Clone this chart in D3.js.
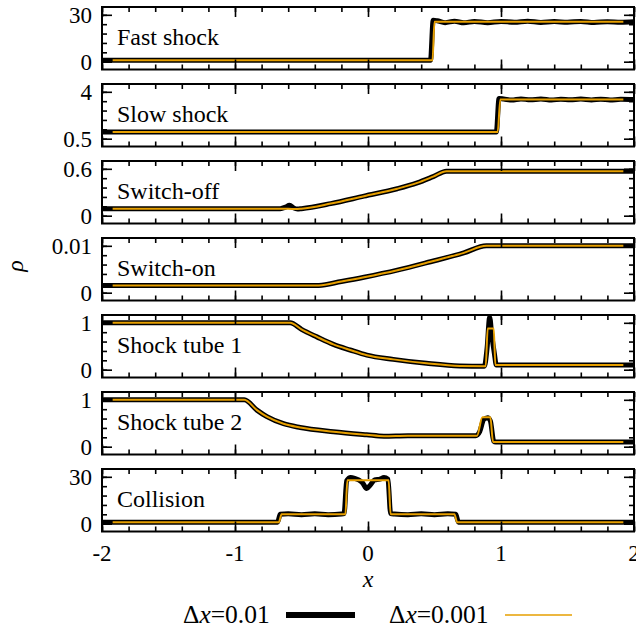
<!DOCTYPE html>
<html>
<head>
<meta charset="utf-8">
<script src="https://cdn.jsdelivr.net/npm/d3@7"></script>
<style>
  body { margin: 0; background: #fff; }
  svg { display: block; }
  text { font-family: "Liberation Serif", "Times New Roman", serif; fill: #000; }
</style>
</head>
<body>
<svg id="chart" width="636" height="629"></svg>
<script>
// ---- data -------------------------------------------------------------
const panelNames = ["Fast shock", "Slow shock", "Switch-off", "Switch-on",
                    "Shock tube 1", "Shock tube 2", "Collision"];
// first and last labelled y tick of every panel
const yTickEnds = [[0, 30], [0.5, 4], [0, 0.6], [0, 0.01], [0, 1], [0, 1], [0, 30]];
const yTickLabels = [["0", "30"], ["0.5", "4"], ["0", "0.6"], ["0", "0.01"],
                     ["0", "1"], ["0", "1"], ["0", "30"]];
const xMajorTicks = [-2, -1, 0, 1, 2];
const xTickLabels = ["-2", "-1", "0", "1", "2"];
const legendNames = ["0.01", "0.001"];

// density profiles, [x, rho]; coarse = Δx=0.01, fine = Δx=0.001
const fastCoarse = [[-2, 1], [0.47, 1], [0.49, 26.5], [0.52, 26.2], [0.58, 25.0], [0.65, 25.9],
  [0.72, 24.9], [0.8, 25.8], [0.9, 25.0], [1.0, 25.8], [1.1, 25.2], [1.2, 25.9], [1.3, 25.1],
  [1.4, 25.7], [1.5, 25.2], [1.6, 25.8], [1.7, 25.1], [1.8, 25.6], [1.9, 25.2], [2, 25.5]];
const fastFine = [[-1.92, 1], [0.485, 1], [0.5, 25.5], [1.92, 25.5]];

const slowCoarse = [[-2, 1], [0.965, 1], [0.985, 3.5], [1.02, 3.46], [1.08, 3.38], [1.15, 3.47],
  [1.22, 3.4], [1.3, 3.46], [1.38, 3.38], [1.45, 3.45], [1.52, 3.4], [1.6, 3.46], [1.68, 3.39],
  [1.75, 3.45], [1.82, 3.39], [1.9, 3.44], [2, 3.42]];
const slowFine = [[-1.92, 1], [0.975, 1], [0.995, 3.42], [1.92, 3.42]];

const switchOffCoarse = [[-2, 0.09], [-0.66, 0.09], [-0.62, 0.11], [-0.59, 0.135], [-0.56, 0.1],
  [-0.53, 0.085], [-0.5, 0.09], [-0.28, 0.155], [-0.03, 0.25], [0.22, 0.345], [0.37, 0.42],
  [0.49, 0.5], [0.59, 0.57], [2, 0.57]];
const switchOffFine = [[-1.92, 0.09], [-0.65, 0.09], [-0.55, 0.085], [-0.5, 0.09], [-0.28, 0.155],
  [-0.03, 0.25], [0.22, 0.345], [0.37, 0.42], [0.49, 0.5], [0.59, 0.57], [1.92, 0.57]];

const switchOnCoarse = [[-2, 0.00156], [-0.37, 0.00156], [-0.2, 0.0024], [-0.03, 0.0033],
  [0.22, 0.0048], [0.47, 0.0066], [0.72, 0.0085], [0.89, 0.0100], [2, 0.0100]];
const switchOnFine = [[-1.92, 0.00156], [-0.37, 0.00156], [-0.2, 0.0024], [-0.03, 0.0033],
  [0.22, 0.0048], [0.47, 0.0066], [0.72, 0.0085], [0.89, 0.0100], [1.92, 0.0100]];

const tube1Coarse = [[-2, 1], [-0.585, 1], [-0.5, 0.86], [-0.384, 0.7], [-0.26, 0.54],
  [-0.134, 0.42], [-0.008, 0.31], [0.19, 0.22], [0.44, 0.135], [0.69, 0.08], [0.875, 0.075],
  [0.895, 0.45], [0.915, 1.12], [0.93, 0.75], [0.95, 0.35], [0.965, 0.1], [2, 0.1]];
const tube1Fine = [[-1.92, 1], [-0.585, 1], [-0.5, 0.86], [-0.384, 0.7], [-0.26, 0.54],
  [-0.134, 0.42], [-0.008, 0.31], [0.19, 0.22], [0.44, 0.135], [0.69, 0.08], [0.885, 0.075],
  [0.9, 0.88], [0.945, 0.88], [0.958, 0.1], [1.92, 0.1]];

const tube2Coarse = [[-2, 1], [-0.93, 1], [-0.835, 0.78], [-0.76, 0.64], [-0.635, 0.49],
  [-0.51, 0.41], [-0.26, 0.32], [-0.01, 0.255], [0.12, 0.225], [0.3, 0.235], [0.81, 0.235],
  [0.84, 0.32], [0.87, 0.58], [0.9, 0.62], [0.92, 0.55], [0.945, 0.12], [0.96, 0.1], [2, 0.1]];
const tube2Fine = [[-1.92, 1], [-0.93, 1], [-0.835, 0.78], [-0.76, 0.64], [-0.635, 0.49],
  [-0.51, 0.41], [-0.26, 0.32], [-0.01, 0.255], [0.12, 0.225], [0.3, 0.235], [0.82, 0.235],
  [0.86, 0.63], [0.92, 0.63], [0.94, 0.1], [1.92, 0.1]];

const collisionCoarse = [[-2, 1], [-0.68, 1], [-0.66, 6], [-0.6, 6.4], [-0.5, 5.8], [-0.4, 6.3],
  [-0.3, 5.8], [-0.2, 6.2], [-0.18, 6.5], [-0.16, 27.5], [-0.13, 29.5], [-0.1, 29], [-0.07, 28],
  [-0.04, 26], [-0.01, 22.5], [0.02, 25], [0.05, 28], [0.09, 28.5], [0.12, 29.5], [0.15, 28.5],
  [0.17, 6.5], [0.2, 6.2], [0.3, 5.8], [0.4, 6.3], [0.5, 5.8], [0.6, 6.3], [0.66, 6], [0.68, 1], [2, 1]];
const collisionFine = [[-1.92, 1], [-0.67, 1], [-0.65, 6], [-0.17, 6], [-0.155, 27.8],
  [0.155, 27.8], [0.17, 6], [0.65, 6], [0.67, 1], [1.92, 1]];

const coarseSeries = [fastCoarse, slowCoarse, switchOffCoarse, switchOnCoarse,
                      tube1Coarse, tube2Coarse, collisionCoarse];
const fineSeries = [fastFine, slowFine, switchOffFine, switchOnFine,
                    tube1Fine, tube2Fine, collisionFine];

// ---- layout -----------------------------------------------------------
const svg = d3.select("#chart");
const left = 102, right = 634;
const panelTop0 = 7, panelPitch = 77, panelH = 62.5;
const orange = "#e69f00";

const x = d3.scaleLinear().domain([-2, 2]).range([left, right]);
const xMinor = d3.range(-2, 2.0001, 0.2);

const line = (y) => d3.line().x(d => x(d[0])).y(d => y(d[1])).curve(d3.curveMonotoneX);

panelNames.forEach((name, i) => {
  const top = panelTop0 + i * panelPitch, bottom = top + panelH;
  const [lo, hi] = yTickEnds[i];
  const pad = (hi - lo) / 6;
  const y = d3.scaleLinear().domain([lo - pad, hi + pad]).range([bottom, top]);
  const yMinor = d3.range(6).map(k => lo + k * (hi - lo) / 5);

  const g = svg.append("g");

  const clipId = "clip" + i;
  svg.append("clipPath").attr("id", clipId)
    .append("rect").attr("x", left).attr("y", top).attr("width", right - left).attr("height", panelH);

  const plot = g.append("g").attr("clip-path", `url(#${clipId})`);
  plot.append("path").datum(coarseSeries[i])
    .attr("d", line(y)).attr("fill", "none").attr("stroke", "#000")
    .attr("stroke-width", 5).attr("stroke-linejoin", "round");
  plot.append("path").datum(fineSeries[i])
    .attr("d", line(y)).attr("fill", "none").attr("stroke", orange)
    .attr("stroke-width", 2).attr("stroke-linejoin", "round");

  // inward ticks on all four sides
  const tickStyle = sel => {
    sel.select(".domain").remove();
    sel.selectAll("line").attr("stroke", "#000").attr("stroke-width", 1.6);
    sel.selectAll("text").remove();
  };
  g.append("g").attr("transform", `translate(0,${bottom})`)
    .call(d3.axisBottom(x).tickValues(xMinor).tickSize(-5)).call(tickStyle);
  g.append("g").attr("transform", `translate(0,${bottom})`)
    .call(d3.axisBottom(x).tickValues(xMajorTicks).tickSize(-10)).call(tickStyle);
  g.append("g").attr("transform", `translate(0,${top})`)
    .call(d3.axisTop(x).tickValues(xMinor).tickSize(-5)).call(tickStyle);
  g.append("g").attr("transform", `translate(0,${top})`)
    .call(d3.axisTop(x).tickValues(xMajorTicks).tickSize(-10)).call(tickStyle);
  g.append("g").attr("transform", `translate(${left},0)`)
    .call(d3.axisLeft(y).tickValues(yMinor).tickSize(-5)).call(tickStyle);
  g.append("g").attr("transform", `translate(${left},0)`)
    .call(d3.axisLeft(y).tickValues([lo, hi]).tickSize(-10)).call(tickStyle);
  g.append("g").attr("transform", `translate(${right},0)`)
    .call(d3.axisRight(y).tickValues(yMinor).tickSize(-5)).call(tickStyle);
  g.append("g").attr("transform", `translate(${right},0)`)
    .call(d3.axisRight(y).tickValues([lo, hi]).tickSize(-10)).call(tickStyle);

  g.append("rect").attr("x", left).attr("y", top)
    .attr("width", right - left).attr("height", panelH)
    .attr("fill", "none").attr("stroke", "#000").attr("stroke-width", 2);

  // y tick labels
  [lo, hi].forEach((v, k) => {
    g.append("text").attr("x", left - 10).attr("y", y(v)).attr("dy", "0.34em")
      .attr("text-anchor", "end").attr("font-size", 23).text(yTickLabels[i][k]);
  });

  g.append("text").attr("x", left + 15).attr("y", top + 38)
    .attr("font-size", 24).text(name);

  if (i === panelNames.length - 1) {
    xMajorTicks.forEach((v, k) => {
      svg.append("text").attr("x", x(v)).attr("y", bottom + 22).attr("dy", "0.34em")
        .attr("text-anchor", "middle").attr("font-size", 23).text(xTickLabels[k]);
    });
  }
});

// axis titles
svg.append("text").attr("x", x(0)).attr("y", 587).attr("text-anchor", "middle")
  .attr("font-size", 24).attr("font-style", "italic").text("x");
svg.append("text").attr("transform", "translate(23,266) rotate(-90)")
  .attr("text-anchor", "middle").attr("font-size", 24).attr("font-style", "italic").text("ρ");

// legend
const legend = [
  { x: 183, lineX: [286, 355], color: "#000", width: 6, label: legendNames[0] },
  { x: 389, lineX: [505, 572], color: orange, width: 1.6, label: legendNames[1] }
];
legend.forEach(d => {
  const t = svg.append("text").attr("x", d.x).attr("y", 623).attr("font-size", 25.5);
  t.append("tspan").text("Δ");
  t.append("tspan").attr("font-style", "italic").text("x");
  t.append("tspan").text("=" + d.label);
  svg.append("line").attr("x1", d.lineX[0]).attr("x2", d.lineX[1]).attr("y1", 615).attr("y2", 615)
    .attr("stroke", d.color).attr("stroke-width", d.width);
});
</script>
</body>
</html>
